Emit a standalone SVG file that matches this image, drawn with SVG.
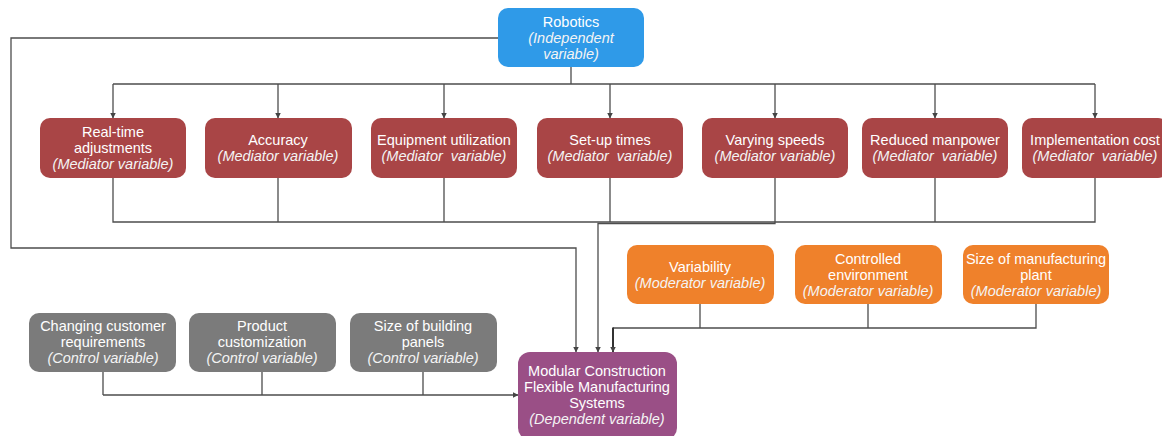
<svg xmlns="http://www.w3.org/2000/svg" width="1162" height="436" viewBox="0 0 1162 436">
  <defs>
    <marker id="arr" viewBox="0 0 6 6" refX="5.5" refY="3" markerWidth="6" markerHeight="6" markerUnits="userSpaceOnUse" orient="auto">
      <path d="M0,0 L6,3 L0,6 z" fill="#444"/>
    </marker>
    <style>
      .box { stroke: none; }
      .ind { fill: #2f9ae8; }
      .med { fill: #a94546; }
      .mod { fill: #ef812b; }
      .ctl { fill: #7b7b7b; }
      .dep { fill: #9a4f86; }
      .t { font-family: "Liberation Sans", Arial, sans-serif; font-size: 14.5px; fill: #ffffff; text-anchor: middle; white-space: pre; }
      .i { font-style: italic; fill: #f4f4f4; }
      .ln { fill: none; stroke: #4d4d4d; stroke-width: 1.3; }
      .lb { fill: none; stroke: #333; stroke-width: 2; }
    </style>
  </defs>
  <rect width="1162" height="436" fill="#ffffff"/>

  <g id="connectors">
    <!-- independent variable to mediators -->
    <path class="ln" d="M571,66 V84 M113,84 H1095"/>
    <path class="ln" marker-end="url(#arr)" d="M113,84 V118"/>
    <path class="ln" marker-end="url(#arr)" d="M278,84 V118"/>
    <path class="ln" marker-end="url(#arr)" d="M444,84 V118"/>
    <path class="ln" marker-end="url(#arr)" d="M610,84 V118"/>
    <path class="ln" marker-end="url(#arr)" d="M775,84 V118"/>
    <path class="ln" marker-end="url(#arr)" d="M935,84 V118"/>
    <path class="ln" marker-end="url(#arr)" d="M1095,84 V118"/>
    <!-- direct link from independent to dependent -->
    <path class="ln" marker-end="url(#arr)" d="M498,38 H11 V248 H576 V352"/>
    <!-- mediators to dependent -->
    <path class="ln" d="M113,178 V222 H1095 V178 M278,178 V222 M444,178 V222 M610,178 V222 M935,178 V222"/>
    <path class="ln" marker-end="url(#arr)" d="M775,178 V223.5 H598 V352"/>
    <!-- moderators to dependent -->
    <path class="ln" d="M700,304 V328 M868,304 V328 M1036,304 V328 H613"/>
    <path class="lb" marker-end="url(#arr)" d="M613,327.5 V352"/>
    <!-- controls to dependent -->
    <path class="ln" d="M103,372 V395 M262,372 V395 M423,372 V395"/>
    <path class="ln" marker-end="url(#arr)" d="M103,395 H518"/>
  </g>

  <g id="robotics">
    <rect class="box ind" x="498" y="8" width="146" height="59" rx="10"/>
    <text class="t" x="571" y="27">Robotics</text>
    <text class="t i" x="571" y="43">(Independent</text>
    <text class="t i" x="571" y="59">variable)</text>
  </g>

  <g id="real-time-adjustments">
    <rect class="box med" x="40" y="118" width="146" height="60" rx="10"/>
    <text class="t" x="113" y="137">Real-time</text>
    <text class="t" x="113" y="153">adjustments</text>
    <text class="t i" x="113" y="169">(Mediator variable)</text>
  </g>
  <g id="accuracy">
    <rect class="box med" x="205" y="118" width="147" height="60" rx="10"/>
    <text class="t" x="278" y="145">Accuracy</text>
    <text class="t i" x="278" y="161">(Mediator variable)</text>
  </g>
  <g id="equipment-utilization">
    <rect class="box med" x="371" y="118" width="146" height="60" rx="10"/>
    <text class="t" x="444" y="145">Equipment utilization</text>
    <text class="t i" x="444" y="161">(Mediator  variable)</text>
  </g>
  <g id="set-up-times">
    <rect class="box med" x="537" y="118" width="146" height="60" rx="10"/>
    <text class="t" x="610" y="145">Set-up times</text>
    <text class="t i" x="610" y="161">(Mediator  variable)</text>
  </g>
  <g id="varying-speeds">
    <rect class="box med" x="702" y="118" width="146" height="60" rx="10"/>
    <text class="t" x="775" y="145">Varying speeds</text>
    <text class="t i" x="775" y="161">(Mediator variable)</text>
  </g>
  <g id="reduced-manpower">
    <rect class="box med" x="862" y="118" width="146" height="60" rx="10"/>
    <text class="t" x="935" y="145">Reduced manpower</text>
    <text class="t i" x="935" y="161">(Mediator  variable)</text>
  </g>
  <g id="implementation-cost">
    <rect class="box med" x="1022" y="118" width="146" height="60" rx="10"/>
    <text class="t" x="1095" y="145">Implementation cost</text>
    <text class="t i" x="1095" y="161">(Mediator  variable)</text>
  </g>

  <g id="variability">
    <rect class="box mod" x="627" y="245" width="147" height="59" rx="10"/>
    <text class="t" x="700" y="272">Variability</text>
    <text class="t i" x="700" y="288">(Moderator variable)</text>
  </g>
  <g id="controlled-environment">
    <rect class="box mod" x="795" y="245" width="147" height="59" rx="10"/>
    <text class="t" x="868" y="264">Controlled</text>
    <text class="t" x="868" y="280">environment</text>
    <text class="t i" x="868" y="296">(Moderator variable)</text>
  </g>
  <g id="size-of-manufacturing-plant">
    <rect class="box mod" x="963" y="245" width="146" height="59" rx="10"/>
    <text class="t" x="1036" y="264">Size of manufacturing</text>
    <text class="t" x="1036" y="280">plant</text>
    <text class="t i" x="1036" y="296">(Moderator variable)</text>
  </g>

  <g id="changing-customer-requirements">
    <rect class="box ctl" x="29" y="313" width="147" height="59" rx="10"/>
    <text class="t" x="103" y="331">Changing customer</text>
    <text class="t" x="103" y="347">requirements</text>
    <text class="t i" x="103" y="363">(Control variable)</text>
  </g>
  <g id="product-customization">
    <rect class="box ctl" x="189" y="313" width="147" height="59" rx="10"/>
    <text class="t" x="262" y="331">Product</text>
    <text class="t" x="262" y="347">customization</text>
    <text class="t i" x="262" y="363">(Control variable)</text>
  </g>
  <g id="size-of-building-panels">
    <rect class="box ctl" x="350" y="313" width="147" height="59" rx="10"/>
    <text class="t" x="423" y="331">Size of building</text>
    <text class="t" x="423" y="347">panels</text>
    <text class="t i" x="423" y="363">(Control variable)</text>
  </g>

  <g id="modular-construction-fms">
    <rect class="box dep" x="518" y="352" width="159" height="88" rx="12"/>
    <text class="t" x="597" y="376">Modular Construction</text>
    <text class="t" x="597" y="392">Flexible Manufacturing</text>
    <text class="t" x="597" y="408">Systems</text>
    <text class="t i" x="597" y="424">(Dependent variable)</text>
  </g>
</svg>
